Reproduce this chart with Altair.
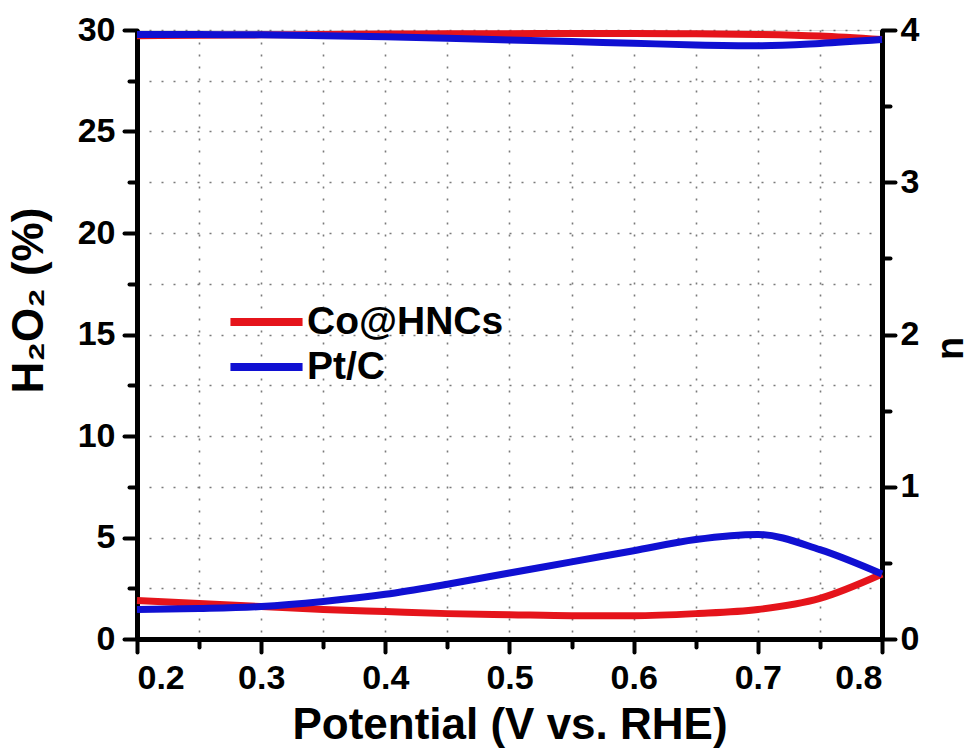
import altair as alt
import pandas as pd

# ---- data ----
potential = [0.20, 0.25, 0.30, 0.35, 0.40, 0.45, 0.50, 0.55, 0.60, 0.65, 0.70, 0.75, 0.80]
co_h2o2 = [1.90, 1.75, 1.60, 1.45, 1.35, 1.25, 1.20, 1.15, 1.15, 1.25, 1.45, 2.00, 3.20]
pt_h2o2 = [1.45, 1.50, 1.60, 1.85, 2.20, 2.70, 3.25, 3.80, 4.35, 4.90, 5.15, 4.40, 3.20]
co_n = [3.962, 3.966, 3.968, 3.971, 3.973, 3.975, 3.976, 3.977, 3.977, 3.975, 3.971, 3.960, 3.937]
pt_n = [3.971, 3.970, 3.968, 3.963, 3.956, 3.946, 3.935, 3.924, 3.913, 3.902, 3.897, 3.912, 3.937]

series_names = ["Co@HNCs", "Pt/C"]
series_colors = ["#e5141b", "#1010d2"]

x_major = [0.2, 0.3, 0.4, 0.5, 0.6, 0.7, 0.8]
x_minor = [0.25, 0.35, 0.45, 0.55, 0.65, 0.75]
x_grid = [0.2, 0.25, 0.3, 0.35, 0.4, 0.45, 0.5, 0.55, 0.6, 0.65, 0.7, 0.75, 0.8]
h_major = [0, 5, 10, 15, 20, 25, 30]
h_minor = [2.5, 7.5, 12.5, 17.5, 22.5, 27.5]
h_grid = [0, 2.5, 5, 7.5, 10, 12.5, 15, 17.5, 20, 22.5, 25, 27.5, 30]
n_major = [0, 1, 2, 3, 4]
n_minor = [0.5, 1.5, 2.5, 3.5]

# ---- tables ----
h_rows = []
n_rows = []
for name, hv, nv in [(series_names[0], co_h2o2, co_n), (series_names[1], pt_h2o2, pt_n)]:
    for p, a, b in zip(potential, hv, nv):
        h_rows.append({"potential": p, "value": a, "series": name})
        n_rows.append({"potential": p, "value": b, "series": name})
h_df = pd.DataFrame(h_rows)
n_df = pd.DataFrame(n_rows)

FONT = "Liberation Sans, Arial, sans-serif"

xscale = alt.Scale(domain=[0.2, 0.8], nice=False, zero=False)
hscale = alt.Scale(domain=[0, 30], nice=False, zero=False)
nscale = alt.Scale(domain=[0, 4], nice=False, zero=False)

color = alt.Color(
    "series:N",
    scale=alt.Scale(domain=series_names, range=series_colors),
    legend=alt.Legend(
        title=None,
        orient="none",
        legendX=89,
        legendY=272,
        symbolType="stroke",
        symbolSize=5200,
        symbolStrokeWidth=8,
        labelFont=FONT,
        labelFontSize=39,
        labelFontWeight="bold",
        labelColor="black",
        labelOffset=0,
        labelLimit=0,
        clipHeight=40,
        rowPadding=5,
        padding=0,
    ),
)

grid_style = dict(grid=True, labels=False, ticks=False, domain=False, title=None,
                  gridDash=[2, 10], gridColor="#7a7a7a", gridWidth=1.6, gridOpacity=1)

grid_layer = alt.Chart(h_df).mark_line(opacity=0).encode(
    x=alt.X("potential:Q", scale=xscale, axis=alt.Axis(values=x_grid, orient="bottom", **grid_style)),
    y=alt.Y("value:Q", scale=hscale, axis=alt.Axis(values=h_grid, orient="left", **grid_style)),
    detail="series:N",
)

minor_style = dict(grid=False, labels=False, domain=False, title=None, ticks=True,
                   tickSize=8, tickWidth=4, tickColor="black", tickCap="round")

minor_h = alt.Chart(h_df).mark_line(opacity=0).encode(
    x=alt.X("potential:Q", scale=xscale, axis=alt.Axis(values=x_minor, orient="bottom", **minor_style)),
    y=alt.Y("value:Q", scale=hscale, axis=alt.Axis(values=h_minor, orient="left", **minor_style)),
    detail="series:N",
)

main_axis = dict(grid=False, domain=True, domainColor="black", domainWidth=5,
                 ticks=True, tickSize=13, tickWidth=4, tickColor="black", tickCap="round",
                 labelFont=FONT, labelFontSize=34, labelFontWeight="bold", labelColor="black",
                 titleFont=FONT, titleFontWeight="bold", titleColor="black")

h_lines = alt.Chart(h_df).mark_line(strokeWidth=7, interpolate="monotone").encode(
    x=alt.X("potential:Q", scale=xscale,
            axis=alt.Axis(values=x_major, orient="bottom", format=".1f", labelPadding=9,
                          title="Potential (V vs. RHE)", titleFontSize=44, titlePadding=8,
                          **main_axis)),
    y=alt.Y("value:Q", scale=hscale,
            axis=alt.Axis(values=h_major, orient="left", format="d", labelPadding=9,
                          title="H₂O₂ (%)", titleFontSize=44, titlePadding=26, titleY=270,
                          **main_axis)),
    color=color,
    order=alt.Order("series:N"),
)

n_lines = alt.Chart(n_df).mark_line(strokeWidth=7, interpolate="monotone").encode(
    x=alt.X("potential:Q", scale=xscale, axis=None),
    y=alt.Y("value:Q", scale=nscale,
            axis=alt.Axis(values=n_major, orient="right", format="d", labelPadding=5,
                          title="n", titleFontSize=38, titleAngle=270,
                          titleX=69, titleY=318, titleBaseline="middle", titleAlign="center",
                          **main_axis)),
    color=color,
)

minor_n = alt.Chart(n_df).mark_line(opacity=0).encode(
    x=alt.X("potential:Q", scale=xscale, axis=None),
    y=alt.Y("value:Q", scale=nscale, axis=alt.Axis(values=n_minor, orient="right", **minor_style)),
    detail="series:N",
)

chart = alt.layer(grid_layer, minor_h, minor_n, h_lines, n_lines).resolve_scale(
    x="independent", y="independent"
).resolve_axis(
    x="independent", y="independent"
).properties(
    width=745, height=609,
    autosize=alt.AutoSizeParams(type="none"),
    padding={"left": 137, "top": 30, "right": 89, "bottom": 116},
).configure_view(
    stroke="black", strokeWidth=5
).configure(background="white")

chart.save("out.html", embed_options={"renderer": "svg", "actions": False})
